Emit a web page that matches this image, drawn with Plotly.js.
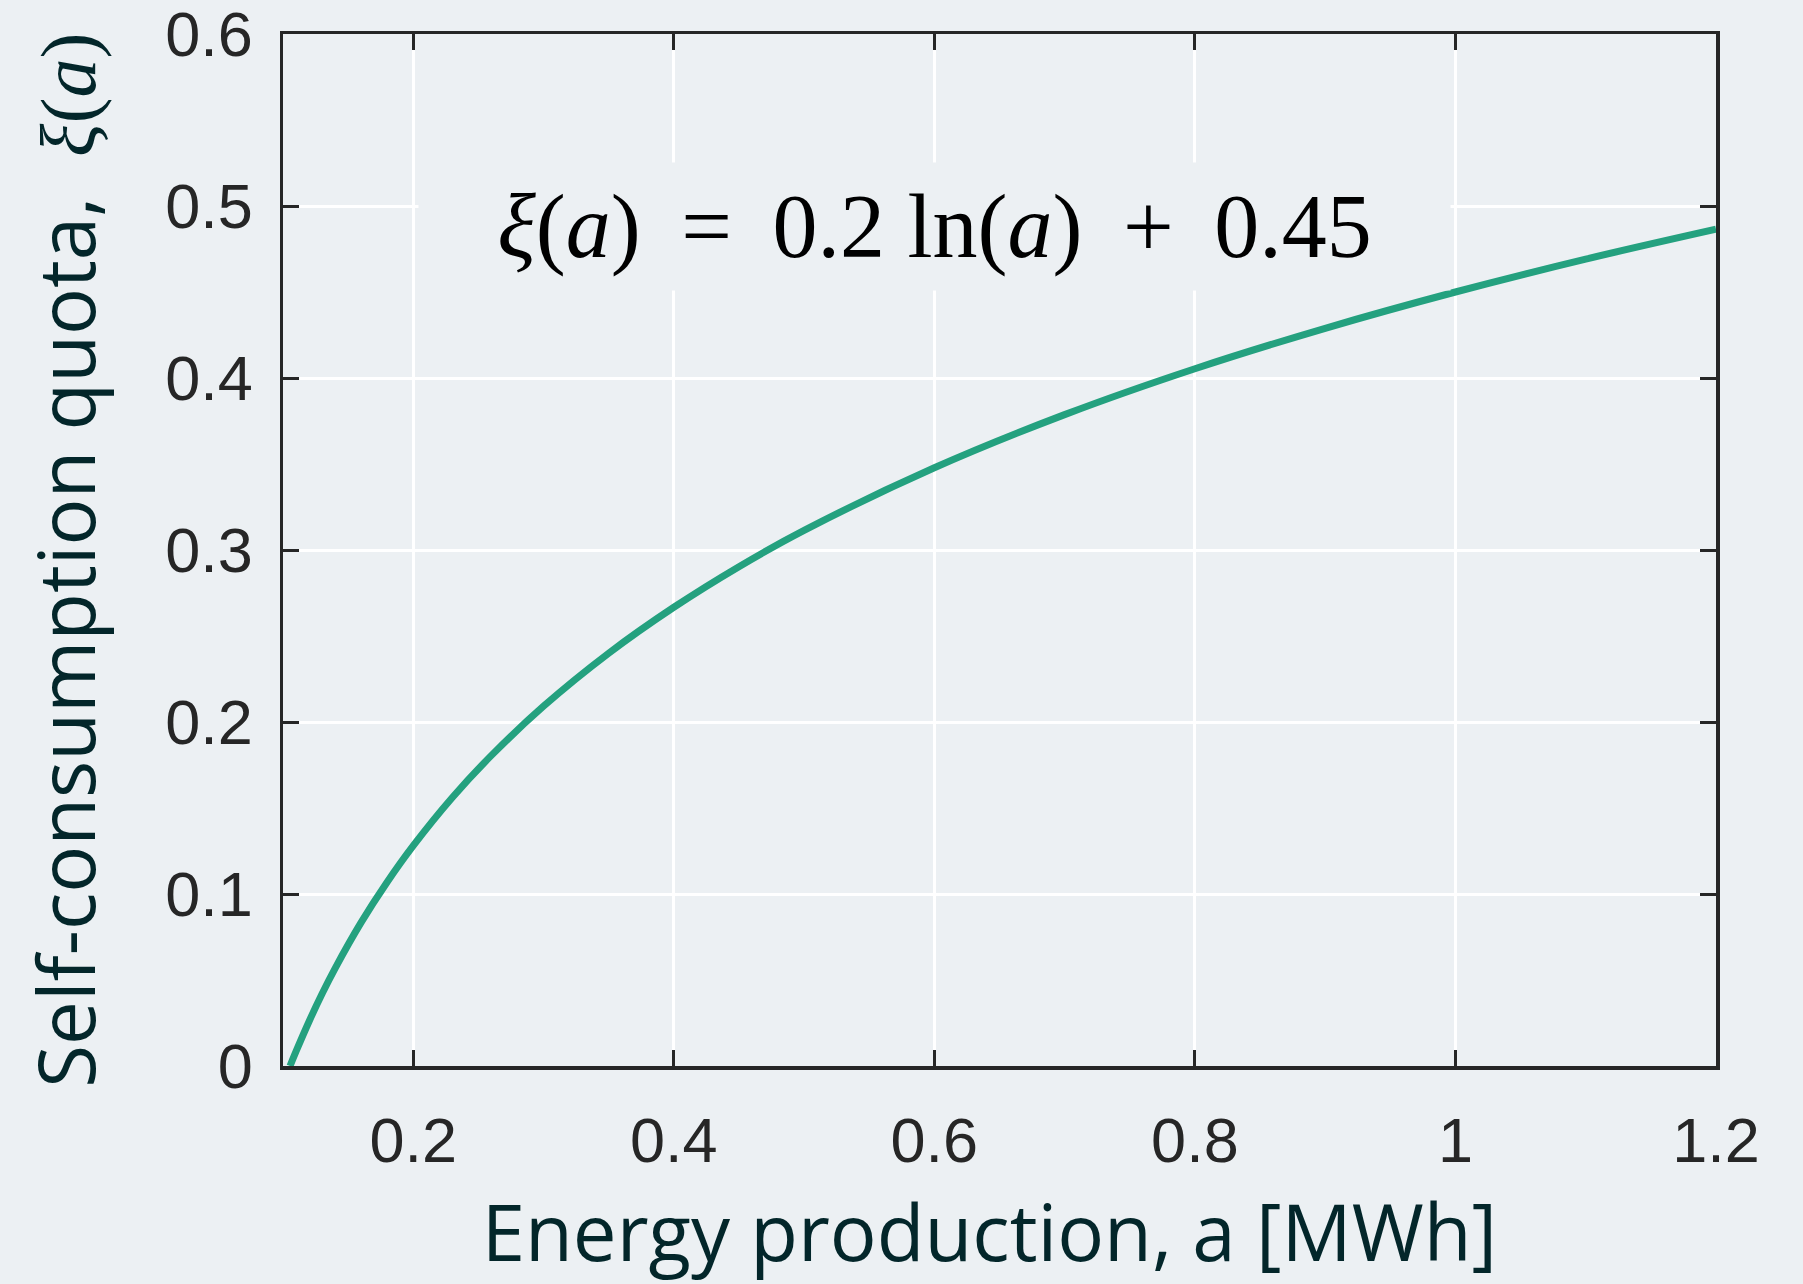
<!DOCTYPE html>
<html>
<head>
<meta charset="utf-8">
<script src="https://cdn.plot.ly/plotly-3.0.1.min.js"></script>
<style>html,body{margin:0;padding:0;background:#ecf0f3;}#chart{width:1803px;height:1284px;}</style>
</head>
<body>
<div id="chart"></div>
<script>
// Energy production a [MWh] and self-consumption quota xi(a)
const energyProduction = [0.1054, 0.11, 0.12, 0.13, 0.14, 0.16, 0.18, 0.2, 0.23, 0.26, 0.3, 0.35, 0.4, 0.45, 0.5, 0.6, 0.7, 0.8, 0.9, 1.0, 1.1, 1.2];
const selfConsumptionQuota = [0.000, 0.0085, 0.0259, 0.0420, 0.0568, 0.0835, 0.1070, 0.1281, 0.1561, 0.1806, 0.2092, 0.2400, 0.2667, 0.2903, 0.3114, 0.3478, 0.3787, 0.4054, 0.4289, 0.4500, 0.4691, 0.4865];
const xTickValues = [0.2, 0.4, 0.6, 0.8, 1, 1.2];
const xTickLabels = ['0.2', '0.4', '0.6', '0.8', '1', '1.2'];
const yTickValues = [0, 0.1, 0.2, 0.3, 0.4, 0.5, 0.6];
const yTickLabels = ['0', '0.1', '0.2', '0.3', '0.4', '0.5', '0.6'];
const gap = ' \u2009';
const equationText = '<i>ξ</i>(<i>a</i>)' + gap + '=' + gap + '0.2 ln(<i>a</i>)' + gap + '+' + gap + '0.45';

const bg = '#ecf0f3';
const axisColor = '#262626';
const titleColor = '#03262a';

const trace = {
  x: energyProduction,
  y: selfConsumptionQuota,
  type: 'scatter',
  mode: 'lines',
  line: {color: '#24a17f', width: 7, shape: 'spline'},
  hoverinfo: 'skip'
};

const commonAxis = {
  showline: true,
  linecolor: axisColor,
  linewidth: 3.5,
  mirror: 'ticks',
  ticks: 'inside',
  ticklen: 16,
  tickwidth: 3,
  tickcolor: axisColor,
  showgrid: true,
  gridcolor: '#ffffff',
  gridwidth: 3,
  zeroline: false,
  tickfont: {family: 'Liberation Sans, Arial, sans-serif', size: 63, color: axisColor},
  tickmode: 'array',
  ticklabeloverflow: 'allow'
};

const layout = {
  width: 1803,
  height: 1284,
  margin: {l: 283, r: 87, t: 34, b: 218},
  paper_bgcolor: bg,
  plot_bgcolor: bg,
  showlegend: false,
  xaxis: Object.assign({}, commonAxis, {
    range: [0.1, 1.2],
    tickvals: xTickValues,
    ticktext: xTickLabels,
    ticklabelstandoff: 17,
    title: {
      text: 'Energy production, a [MWh]&nbsp;',
      font: {family: 'Open Sans, sans-serif', size: 78, color: titleColor},
      standoff: 56
    }
  }),
  yaxis: Object.assign({}, commonAxis, {
    range: [0, 0.6],
    tickvals: yTickValues,
    ticktext: yTickLabels,
    ticklabelstandoff: 14,
    title: {
      text: 'Self-consumption quota, <span style="font-family:Liberation Serif">&nbsp;<i>ξ</i>(<i>a</i>)</span>&nbsp;',
      font: {family: 'Open Sans, sans-serif', size: 78, color: titleColor},
      standoff: 45
    }
  }),
  annotations: [{
    x: 0.6,
    y: 0.488,
    xref: 'x',
    yref: 'y',
    text: equationText,
    showarrow: false,
    font: {family: 'Liberation Serif, Times New Roman, serif', size: 90, color: '#000000'},
    bgcolor: bg,
    width: 1031,
    height: 127,
    borderpad: 0,
    xanchor: 'center',
    yanchor: 'middle'
  }]
};

Plotly.newPlot('chart', [trace], layout, {staticPlot: true, displayModeBar: false});
</script>
</body>
</html>
